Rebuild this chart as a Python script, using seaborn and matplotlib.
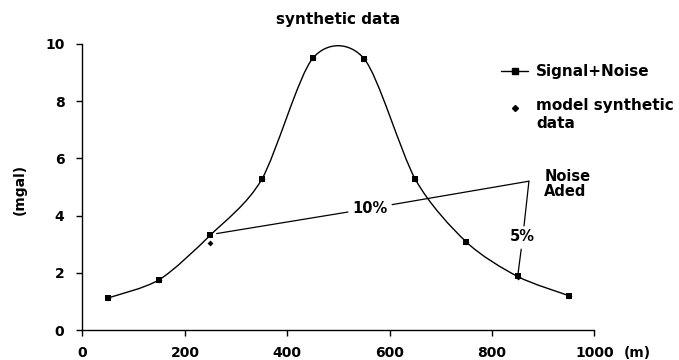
import matplotlib
matplotlib.use('Agg')
import matplotlib.pyplot as plt
from matplotlib.path import Path
from matplotlib.patches import PathPatch
from matplotlib.lines import Line2D
from matplotlib.legend_handler import HandlerLine2D
import seaborn as sns
import pandas as pd

# data
distance = [50, 150, 250, 350, 450, 550, 650, 750, 850, 950]
signal_noise = [1.12, 1.76, 3.32, 5.26, 9.50, 9.48, 5.27, 3.07, 1.87, 1.20]
model_data = [1.12, 1.76, 3.03, 5.26, 9.50, 9.48, 5.27, 3.07, 1.85, 1.20]
x_ticks = [0, 200, 400, 600, 800, 1000]
y_ticks = [0, 2, 4, 6, 8, 10]

sns.set_theme(style="ticks")
plt.rcParams['font.family'] = ['DejaVu Sans']
plt.rcParams['font.weight'] = 'bold'
plt.rcParams['text.color'] = 'black'


def smooth_path(xs, ys, k=0.14):
    """Excel-like smoothed line through the points (cubic bezier segments)."""
    verts = [(xs[0], ys[0])]
    codes = [Path.MOVETO]
    n = len(xs)
    for i in range(n - 1):
        x0, y0, x1, y1 = xs[i], ys[i], xs[i + 1], ys[i + 1]
        xp, yp = (xs[i - 1], ys[i - 1]) if i > 0 else (x0, y0)
        xn, yn = (xs[i + 2], ys[i + 2]) if i + 2 < n else (x1, y1)
        verts += [(x0 + k * (x1 - xp), y0 + k * (y1 - yp)),
                  (x1 - k * (xn - x0), y1 - k * (yn - y0)),
                  (x1, y1)]
        codes += [Path.CURVE4] * 3
    return Path(verts, codes)


class TopLineHandler(HandlerLine2D):
    """Put the legend marker next to the first line of a two-line label."""
    def create_artists(self, legend, orig_handle, xdescent, ydescent,
                       width, height, fontsize, trans):
        return super().create_artists(legend, orig_handle, xdescent, ydescent,
                                      width, height + 0.95 * fontsize,
                                      fontsize, trans)


df = pd.DataFrame({'x': distance, 'signal': signal_noise, 'model': model_data})

fig = plt.figure(figsize=(6.79, 3.6), dpi=100)
ax = fig.add_axes([0.1215, 0.0833, 0.754, 0.795])

ax.add_patch(PathPatch(smooth_path(distance, signal_noise), fill=False,
                       edgecolor='black', lw=1.0, zorder=2))
sns.scatterplot(data=df, x='x', y='model', marker='D', s=9, color='black',
                edgecolor='black', linewidth=0, ax=ax, zorder=3)
sns.scatterplot(data=df, x='x', y='signal', marker='s', s=16, color='black',
                edgecolor='black', linewidth=0, ax=ax, zorder=4)

ax.set_xlim(0, 1000)
ax.set_ylim(0, 10)
ax.set_xticks(x_ticks)
ax.set_yticks(y_ticks)
sns.despine(ax=ax)
for s in ['left', 'bottom']:
    ax.spines[s].set_linewidth(1.0)
    ax.spines[s].set_color('black')
ax.tick_params(axis='both', length=4, width=1.0, color='black',
               labelsize=10, labelcolor='black')
ax.tick_params(axis='x', pad=7.5)
ax.tick_params(axis='y', pad=9)

ax.set_title('synthetic data', fontsize=11, fontweight='bold', pad=14)
ax.set_xlabel('(m)', fontsize=10, fontweight='bold', color='black')
ax.xaxis.set_label_coords(1.083, -0.08)
ax.xaxis.label.set_va('center')
ax.set_ylabel('(mgal)', fontsize=10, fontweight='bold', color='black')
ax.yaxis.set_label_coords(-0.122, 0.49)
ax.yaxis.label.set_va('center')

# noise annotations
apex = (872, 5.2)
i250, i850 = distance.index(250), distance.index(850)
line_kw = dict(arrowstyle='-', lw=0.9, color='black', shrinkA=1, shrinkB=0)
ax.annotate('10%', xy=(distance[i250] + 12, signal_noise[i250] + 0.05),
            xytext=(562, 4.25), ha='center', va='center', fontsize=10.5,
            fontweight='bold', arrowprops=line_kw)
ax.annotate('', xy=apex, xytext=(562, 4.25), textcoords='data',
            arrowprops=dict(line_kw, shrinkA=16))
ax.annotate('5%', xy=(distance[i850], signal_noise[i850]),
            xytext=(860, 3.25), ha='center', va='center', fontsize=10.5,
            fontweight='bold', arrowprops=line_kw)
ax.annotate('', xy=apex, xytext=(860, 3.25), textcoords='data',
            arrowprops=dict(line_kw, shrinkA=8))
ax.text(902, 5.1, 'Noise\nAded', ha='left', va='center', fontsize=10.5,
        fontweight='bold', linespacing=1.0, clip_on=False)

sig_handle = Line2D([], [], color='black', lw=1.0, marker='s', markersize=4)
mod_handle = Line2D([], [], color='black', lw=0, marker='D', markersize=3)
ax.legend([sig_handle, mod_handle], ['Signal+Noise', 'model synthetic\ndata'],
          handler_map={mod_handle: TopLineHandler()},
          loc='upper left', bbox_to_anchor=(0.817, 0.929), frameon=False,
          fontsize=11, borderpad=0, borderaxespad=0, handlelength=1.8,
          handletextpad=0.5, labelspacing=1.25)

fig.savefig('out.png', dpi=100, facecolor='white')
